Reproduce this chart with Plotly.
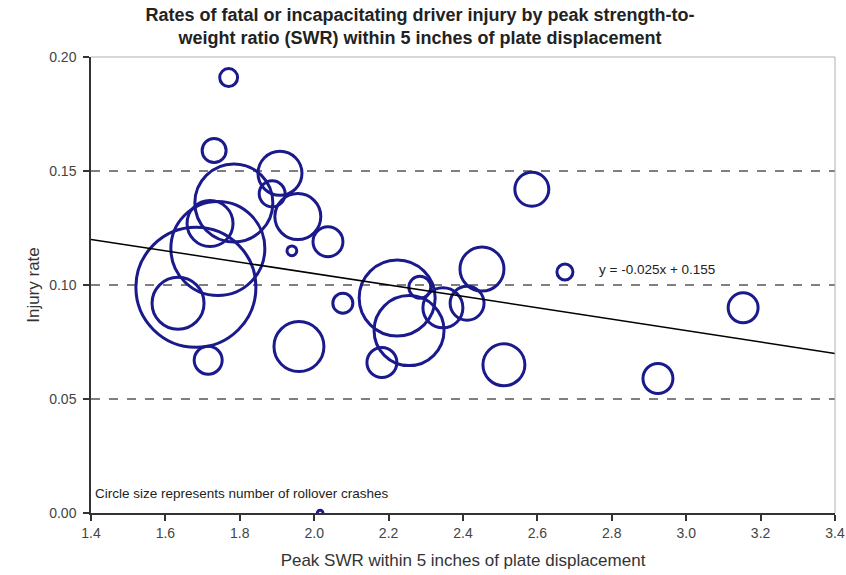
import plotly.graph_objects as go

# Data: peak SWR, injury rate, number of rollover crashes (circle size)
swr = [1.77, 1.731, 1.784, 1.908, 1.887, 1.956, 1.940, 2.037, 1.720, 1.741,
       1.682, 1.634, 1.715, 1.959, 2.077, 2.585, 2.451, 2.674, 2.223, 2.284,
       2.255, 2.346, 2.411, 2.182, 2.510, 3.153, 2.924, 2.016]
injury_rate = [0.191, 0.159, 0.136, 0.149, 0.140, 0.130, 0.115, 0.119, 0.127, 0.116,
               0.099, 0.092, 0.067, 0.073, 0.092, 0.142, 0.107, 0.1057, 0.0943, 0.099,
               0.080, 0.090, 0.092, 0.066, 0.065, 0.090, 0.059, 0.0]
crashes = [20, 36, 380, 121, 42, 132, 6, 56, 132, 552,
           900, 169, 49, 156, 25, 72, 121, 16, 361, 30,
           306, 100, 72, 56, 110, 56, 56, 2]

trend_slope = -0.025
trend_intercept = 0.155
x_range = [1.4, 3.4]
y_range = [0.0, 0.20]
x_ticks = [1.4, 1.6, 1.8, 2.0, 2.2, 2.4, 2.6, 2.8, 3.0, 3.2, 3.4]
y_ticks = [0.00, 0.05, 0.10, 0.15, 0.20]
grid_values = [0.05, 0.10, 0.15]

navy = "#1a1a8c"
font_family = "Liberation Sans, Arial, sans-serif"

fig = go.Figure()

fig.add_trace(go.Scatter(
    x=swr, y=injury_rate, mode="markers",
    marker=dict(size=crashes, sizemode="area", sizeref=1 / 8, sizemin=1,
                opacity=1, color="rgba(0,0,0,0)", line=dict(color=navy, width=3)),
    showlegend=False, hoverinfo="x+y",
))

trend_y = [trend_slope * x + trend_intercept for x in x_range]
fig.add_trace(go.Scatter(
    x=x_range, y=trend_y, mode="lines",
    line=dict(color="black", width=1.5), showlegend=False, hoverinfo="skip",
))

shapes = []
for g in grid_values:
    shapes.append(dict(type="line", xref="paper", x0=0, x1=1, yref="y", y0=g, y1=g,
                       line=dict(color="black", width=1, dash="dash"), layer="below"))
# light gray top and right frame
shapes.append(dict(type="line", xref="paper", x0=0, x1=1, yref="paper", y0=1, y1=1,
                   line=dict(color="#b0b0b0", width=1)))
shapes.append(dict(type="line", xref="paper", x0=1, x1=1, yref="paper", y0=0, y1=1,
                   line=dict(color="#b0b0b0", width=1)))

fig.update_layout(
    width=846, height=575,
    margin=dict(l=91, r=11, t=57, b=62, autoexpand=False),
    paper_bgcolor="white", plot_bgcolor="white",
    font=dict(family=font_family, color="#333333"),
    title=dict(
        text="<b>Rates of fatal or incapacitating driver injury by peak strength-to-<br>weight ratio (SWR) within 5 inches of plate displacement</b>",
        x=420 / 846, xanchor="center", xref="container",
        y=1 - 21 / 575, yanchor="middle", yref="container",
        font=dict(size=18, color="#222222", family=font_family),
    ),
    shapes=shapes,
    annotations=[
        dict(x=2.76, y=0.1066, xref="x", yref="y", text="y = -0.025x + 0.155",
             showarrow=False, xanchor="left", yanchor="middle",
             font=dict(size=13.5, color="#222222")),
        dict(x=1.405, y=0.0085, xref="x", yref="y",
             text="Circle size represents number of rollover crashes",
             showarrow=False, xanchor="left", yanchor="middle",
             font=dict(size=13.5, color="#222222")),
    ],
)

fig.update_xaxes(
    range=x_range, tickvals=x_ticks, tickformat=".1f",
    showgrid=False, zeroline=False, automargin=False,
    showline=True, linecolor="#333333", linewidth=1.5,
    ticks="outside", ticklen=6, tickcolor="#333333", tickwidth=1.5,
    tickfont=dict(size=14, color="#444444"),
    title=dict(text="Peak SWR within 5 inches of plate displacement",
               font=dict(size=17, color="#333333"), standoff=15),
)
fig.update_yaxes(
    range=y_range, tickvals=y_ticks, tickformat=".2f",
    showgrid=False, zeroline=False, automargin=False,
    showline=True, linecolor="#333333", linewidth=1.5,
    ticks="outside", ticklen=6, tickcolor="#333333", tickwidth=1.5,
    ticklabelstandoff=4,
    tickfont=dict(size=14, color="#444444"),
    title=dict(text="Injury rate", font=dict(size=17, color="#333333"), standoff=5),
)

fig.write_html("out.html", config={"displayModeBar": False},
               post_script="document.body.style.margin='0px';")
